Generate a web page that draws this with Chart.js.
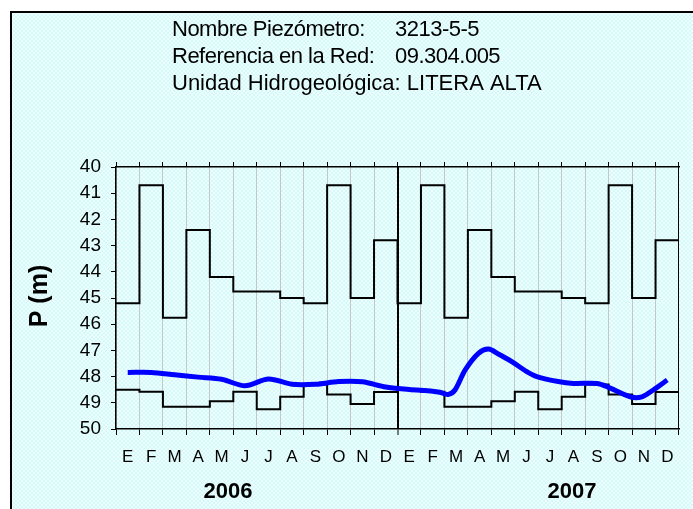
<!DOCTYPE html>
<html>
<head>
<meta charset="utf-8">
<script src="https://cdn.jsdelivr.net/npm/chart.js@4/dist/chart.umd.min.js"></script>
<style>
  html, body { margin: 0; padding: 0; background: #fff; }
  .wrap { position: relative; width: 693px; height: 509px; overflow: hidden; }
  .frame {
    position: absolute; left: 10px; top: 11px; width: 690px; height: 505px;
    border-left: 2px solid #000; border-top: 2px solid #000;
    background:
      radial-gradient(circle, #d2fafa 1px, transparent 1.6px) 0 0 / 4px 4px,
      radial-gradient(circle, #d2fafa 1px, transparent 1.6px) 2px 2px / 4px 4px,
      #f3fefe;
  }
  canvas { position: absolute; left: 0; top: 0; }
</style>
</head>
<body>
<div class="wrap">
  <div class="frame"></div>
  <canvas id="chart" width="693" height="509"></canvas>
</div>
<script>
// months of 2006 and 2007
const months = ['E','F','M','A','M','J','J','A','S','O','N','D',
                'E','F','M','A','M','J','J','A','S','O','N','D'];
const years = ['2006', '2007'];

// monthly upper reference level (m)
const maxLevel = [45.2, 40.7, 45.75, 42.4, 44.2, 44.75, 44.75, 45.0, 45.2, 40.7, 45.0, 42.8,
                  45.2, 40.7, 45.75, 42.4, 44.2, 44.75, 44.75, 45.0, 45.2, 40.7, 45.0, 42.8];
// monthly lower reference level (m)
const minLevel = [48.5, 48.58, 49.15, 49.15, 48.94, 48.58, 49.25, 48.77, 48.3, 48.68, 49.05, 48.59,
                  48.5, 48.58, 49.15, 49.15, 48.94, 48.58, 49.25, 48.77, 48.3, 48.68, 49.05, 48.59];

// measured level: time in months from Jan 2006, depth (m)
const levelTime = [0.5, 1.5, 2.5, 3.5, 4.5, 5.5, 6.5, 7.5, 8.5, 9.5, 10.5, 11.5,
                   12.5, 13.5, 13.8, 14.15, 14.45, 14.88, 15.45, 15.88, 16.3, 16.87,
                   17.51, 17.94, 18.85, 19.5, 20.5, 20.93, 21.92, 22.42, 22.9, 23.5];
const levelDepth = [47.84, 47.84, 47.93, 48.02, 48.1, 48.35, 48.09, 48.29, 48.29, 48.19, 48.2, 48.4,
                    48.49, 48.56, 48.6, 48.68, 48.51, 47.75, 47.11, 46.95, 47.14, 47.43,
                    47.81, 48.0, 48.19, 48.26, 48.26, 48.38, 48.77, 48.77, 48.51, 48.13];

const yTicks = [40, 41, 42, 43, 44, 45, 46, 47, 48, 49, 50];

function stepPoints(vals) {
    const pts = vals.map((v, i) => ({ x: i, y: v }));
    pts.push({ x: vals.length, y: vals[vals.length - 1] });
    return pts;
}

// month ticks sit in the middle of each month, grid lines between them
function monthTicks(scale) {
    scale.ticks = months.map((m, i) => ({ value: i + 0.5 }));
}

const textPlugin = {
    id: 'texts',
    afterDraw(chart) {
        const ctx = chart.ctx;
        ctx.save();
        ctx.fillStyle = '#000';
        ctx.textBaseline = 'alphabetic';
        ctx.textAlign = 'left';
        ctx.font = '22px "Liberation Sans", Arial, sans-serif';
        ctx.letterSpacing = '-0.5px';
        ctx.fillText('Nombre Piezómetro:', 172, 36);
        ctx.fillText('3213-5-5', 395, 36);
        ctx.fillText('Referencia en la Red:', 172, 63);
        ctx.fillText('09.304.005', 395, 63);
        ctx.letterSpacing = '0px';
        ctx.fillText('Unidad Hidrogeológica: LITERA ALTA', 172, 89.5);

        ctx.textAlign = 'center';
        ctx.textBaseline = 'middle';
        ctx.font = 'bold 22px "Liberation Sans", Arial, sans-serif';
        ctx.fillText(years[0], 228, 492);
        ctx.fillText(years[1], 572, 492);

        ctx.translate(40, 296);
        ctx.rotate(-Math.PI / 2);
        ctx.font = 'bold 25px "Liberation Sans", Arial, sans-serif';
        ctx.fillText('P (m)', 0, 0);
        ctx.restore();
    }
};

new Chart(document.getElementById('chart'), {
    type: 'line',
    data: {
        datasets: [{
            label: 'Nivel',
            data: levelTime.map((t, i) => ({ x: t, y: levelDepth[i] })),
            borderColor: '#0000ff',
            borderWidth: 5,
            pointRadius: 0,
            tension: 0.3,
            fill: false
        }, {
            label: 'Máximo',
            data: stepPoints(maxLevel),
            borderColor: '#000',
            borderWidth: 2,
            pointRadius: 0,
            stepped: 'before',
            fill: false
        }, {
            label: 'Mínimo',
            data: stepPoints(minLevel),
            borderColor: '#000',
            borderWidth: 2,
            pointRadius: 0,
            stepped: 'before',
            fill: false
        }]
    },
    options: {
        responsive: false,
        animation: false,
        devicePixelRatio: 1,
        layout: { padding: { left: 0, top: 162, right: 14, bottom: 0 } },
        plugins: {
            legend: { display: false },
            tooltip: { enabled: false }
        },
        scales: {
            x: {
                type: 'linear',
                position: 'bottom',
                min: 0,
                max: months.length,
                afterBuildTicks: monthTicks,
                afterFit: (s) => { s.height = 80; },
                ticks: {
                    autoSkip: false,
                    maxRotation: 0,
                    padding: 12,
                    color: '#000',
                    font: { family: '"Liberation Sans", Arial, sans-serif', size: 17 },
                    callback: (v, i) => months[i]
                },
                grid: {
                    offset: true,
                    color: (c) => (c.index === 12 || c.index === undefined) ? '#000' : '#c4c8c8',
                    lineWidth: (c) => c.index === 12 ? 2 : 1,
                    tickColor: '#000',
                    tickLength: 6,
                    tickWidth: 1
                },
                border: { color: '#000', width: 1.5 }
            },
            xTop: {
                type: 'linear',
                position: 'top',
                min: 0,
                max: months.length,
                afterBuildTicks: monthTicks,
                afterFit: (s) => { s.height = 5; },
                ticks: { display: false },
                grid: {
                    offset: true,
                    drawOnChartArea: false,
                    tickColor: '#000',
                    tickLength: 5
                },
                border: { color: '#000', width: 1.5 }
            },
            y: {
                reverse: true,
                min: 40,
                max: 50,
                afterBuildTicks: (s) => { s.ticks = yTicks.map(v => ({ value: v })); },
                afterFit: (s) => { s.width = 116; },
                ticks: {
                    padding: 10,
                    color: '#000',
                    font: { family: '"Liberation Sans", Arial, sans-serif', size: 19 }
                },
                grid: {
                    drawOnChartArea: false,
                    tickColor: '#000',
                    tickLength: 5
                },
                border: { color: '#000', width: 1.5 }
            }
        }
    },
    plugins: [textPlugin]
});
</script>
</body>
</html>
